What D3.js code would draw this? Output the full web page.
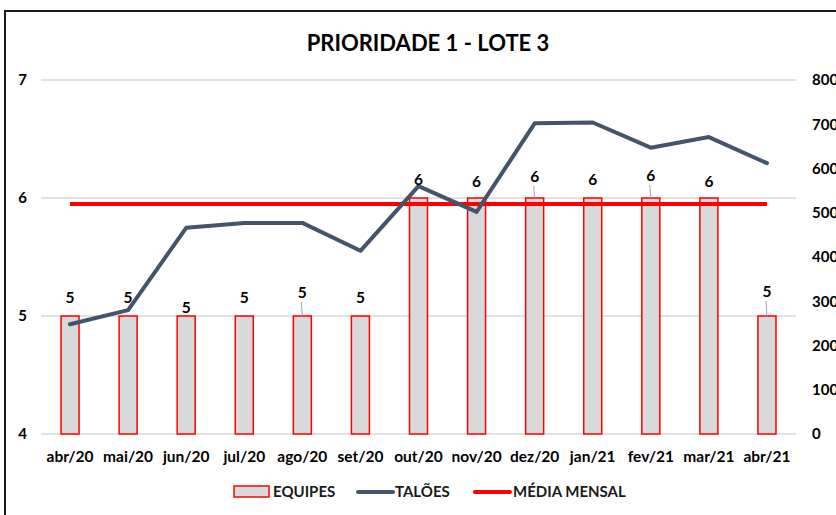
<!DOCTYPE html>
<html>
<head>
<meta charset="utf-8">
<script src="https://cdn.jsdelivr.net/npm/d3@7"></script>
<style>
  body { margin: 0; background: #fff; }
  svg { display: block; font-family: Lato, 'Open Sans', sans-serif; }
</style>
</head>
<body>
<svg id="chart" width="836" height="515"></svg>
<script>
var months = ['abr/20', 'mai/20', 'jun/20', 'jul/20', 'ago/20', 'set/20', 'out/20',
  'nov/20', 'dez/20', 'jan/21', 'fev/21', 'mar/21', 'abr/21']
var equipes = [5, 5, 5, 5, 5, 5, 6, 6, 6, 6, 6, 6, 5]
var taloes = [248, 280, 466, 477, 477, 414, 560, 502, 702, 704, 647, 671, 612]
var mediaMensal = d3.mean(taloes)
var leftTicks = [4, 5, 6, 7]
var rightTicks = [0, 100, 200, 300, 400, 500, 600, 700, 800]

// label nudges (px) where Excel moved the data label away from the line
var labelNudge = { 'jun/20': 10, 'ago/20': -5, 'dez/20': -3, 'fev/21': -4, 'abr/21': -6, 'nov/20': 2, 'mar/21': 2 }
var leaders = ['ago/20', 'dez/20', 'fev/21', 'abr/21']

var svg = d3.select('#chart')
var margin = { left: 41, right: 40, top: 80, bottom: 81 }
var W = 836, H = 515

// outer border (chart area frame)
svg.append('path')
  .attr('d', 'M5,515 V11 H836')
  .attr('fill', 'none')
  .attr('stroke', '#1a1a1a')
  .attr('stroke-width', 2)

var x = d3.scaleBand().domain(months).range([margin.left, W - margin.right]).paddingInner(0.69).paddingOuter(0.345)
var yL = d3.scaleLinear().domain([4, 7]).range([H - margin.bottom, margin.top])
var yR = d3.scaleLinear().domain([0, 800]).range([H - margin.bottom, margin.top])
var cx = function(m) { return x(m) + x.bandwidth() / 2 }

svg.append('text')
  .attr('x', 428).attr('y', 51)
  .attr('text-anchor', 'middle')
  .attr('font-size', 22).attr('font-weight', 'bold')
  .attr('fill', '#000')
  .text('PRIORIDADE 1 - LOTE 3')

// gridlines
svg.append('g').selectAll('line').data(leftTicks).enter().append('line')
  .attr('x1', margin.left).attr('x2', W - margin.right)
  .attr('y1', d => yL(d)).attr('y2', d => yL(d))
  .attr('stroke', '#d9d9d9').attr('stroke-width', 1.5)

// axes
var axL = svg.append('g').attr('transform', 'translate(' + margin.left + ',0)')
  .call(d3.axisLeft(yL).tickValues(leftTicks).tickSize(0).tickPadding(14).tickFormat(d3.format('d')))
var axR = svg.append('g').attr('transform', 'translate(' + (W - margin.right) + ',0)')
  .call(d3.axisRight(yR).tickValues(rightTicks).tickSize(0).tickPadding(16).tickFormat(d3.format('d')))
var axB = svg.append('g').attr('transform', 'translate(0,' + (H - margin.bottom) + ')')
  .call(d3.axisBottom(x).tickSize(0).tickPadding(17))
;[axL, axR, axB].forEach(function(a) {
  a.select('.domain').remove()
  a.selectAll('text').attr('font-size', 15).attr('font-weight', 'bold').attr('fill', '#000')
    .style('font-family', 'Lato, sans-serif')
})
axB.selectAll('text').attr('font-size', 15.5)

// bars
svg.append('g').selectAll('rect').data(months).enter().append('rect')
  .attr('x', d => x(d))
  .attr('width', x.bandwidth())
  .attr('y', (d, i) => yL(equipes[i]))
  .attr('height', (d, i) => yL(4) - yL(equipes[i]))
  .attr('fill', '#d9d9d9')
  .attr('stroke', '#ff0000')
  .attr('stroke-width', 1.5)

// media mensal
svg.append('line')
  .attr('x1', cx(months[0])).attr('x2', cx(months[months.length - 1]))
  .attr('y1', yR(mediaMensal)).attr('y2', yR(mediaMensal))
  .attr('stroke', '#ff0000').attr('stroke-width', 4)

// taloes line
var line = d3.line().x((d, i) => cx(months[i])).y(d => yR(d))
svg.append('path')
  .datum(taloes)
  .attr('d', line)
  .attr('fill', 'none')
  .attr('stroke', '#44546a')
  .attr('stroke-width', 4)
  .attr('stroke-linejoin', 'round')
  .attr('stroke-linecap', 'round')

// data labels
var lab = svg.append('g')
months.forEach(function(m, i) {
  var nudge = labelNudge[m] || 0
  var ty = yL(equipes[i]) - 13 + nudge
  if (leaders.indexOf(m) >= 0) {
    lab.append('line')
      .attr('x1', cx(m)).attr('x2', cx(m) - 1)
      .attr('y1', yL(equipes[i])).attr('y2', ty + 4)
      .attr('stroke', '#a6a6a6').attr('stroke-width', 1)
  }
  lab.append('text')
    .attr('x', cx(m)).attr('y', ty)
    .attr('text-anchor', 'middle')
    .attr('font-size', 15.5).attr('font-weight', 'bold')
    .attr('fill', '#000')
    .text(equipes[i])
})

// legend
var lg = svg.append('g').attr('transform', 'translate(0,492)')
lg.append('rect').attr('x', 234).attr('y', -6).attr('width', 35).attr('height', 11)
  .attr('fill', '#d9d9d9').attr('stroke', '#ff0000').attr('stroke-width', 1.5)
lg.append('text').attr('x', 273).attr('y', 5).text('EQUIPES')
lg.append('line').attr('x1', 358).attr('x2', 393).attr('y1', 0).attr('y2', 0)
  .attr('stroke', '#44546a').attr('stroke-width', 4).attr('stroke-linecap', 'round')
lg.append('text').attr('x', 395).attr('y', 5).text('TALÕES')
lg.append('line').attr('x1', 475).attr('x2', 510).attr('y1', 0).attr('y2', 0)
  .attr('stroke', '#ff0000').attr('stroke-width', 4).attr('stroke-linecap', 'round')
lg.append('text').attr('x', 513).attr('y', 5).text('MÉDIA MENSAL')
lg.selectAll('text').attr('font-size', 15).attr('font-weight', 'bold').attr('fill', '#1a1a1a')
</script>
</body>
</html>
